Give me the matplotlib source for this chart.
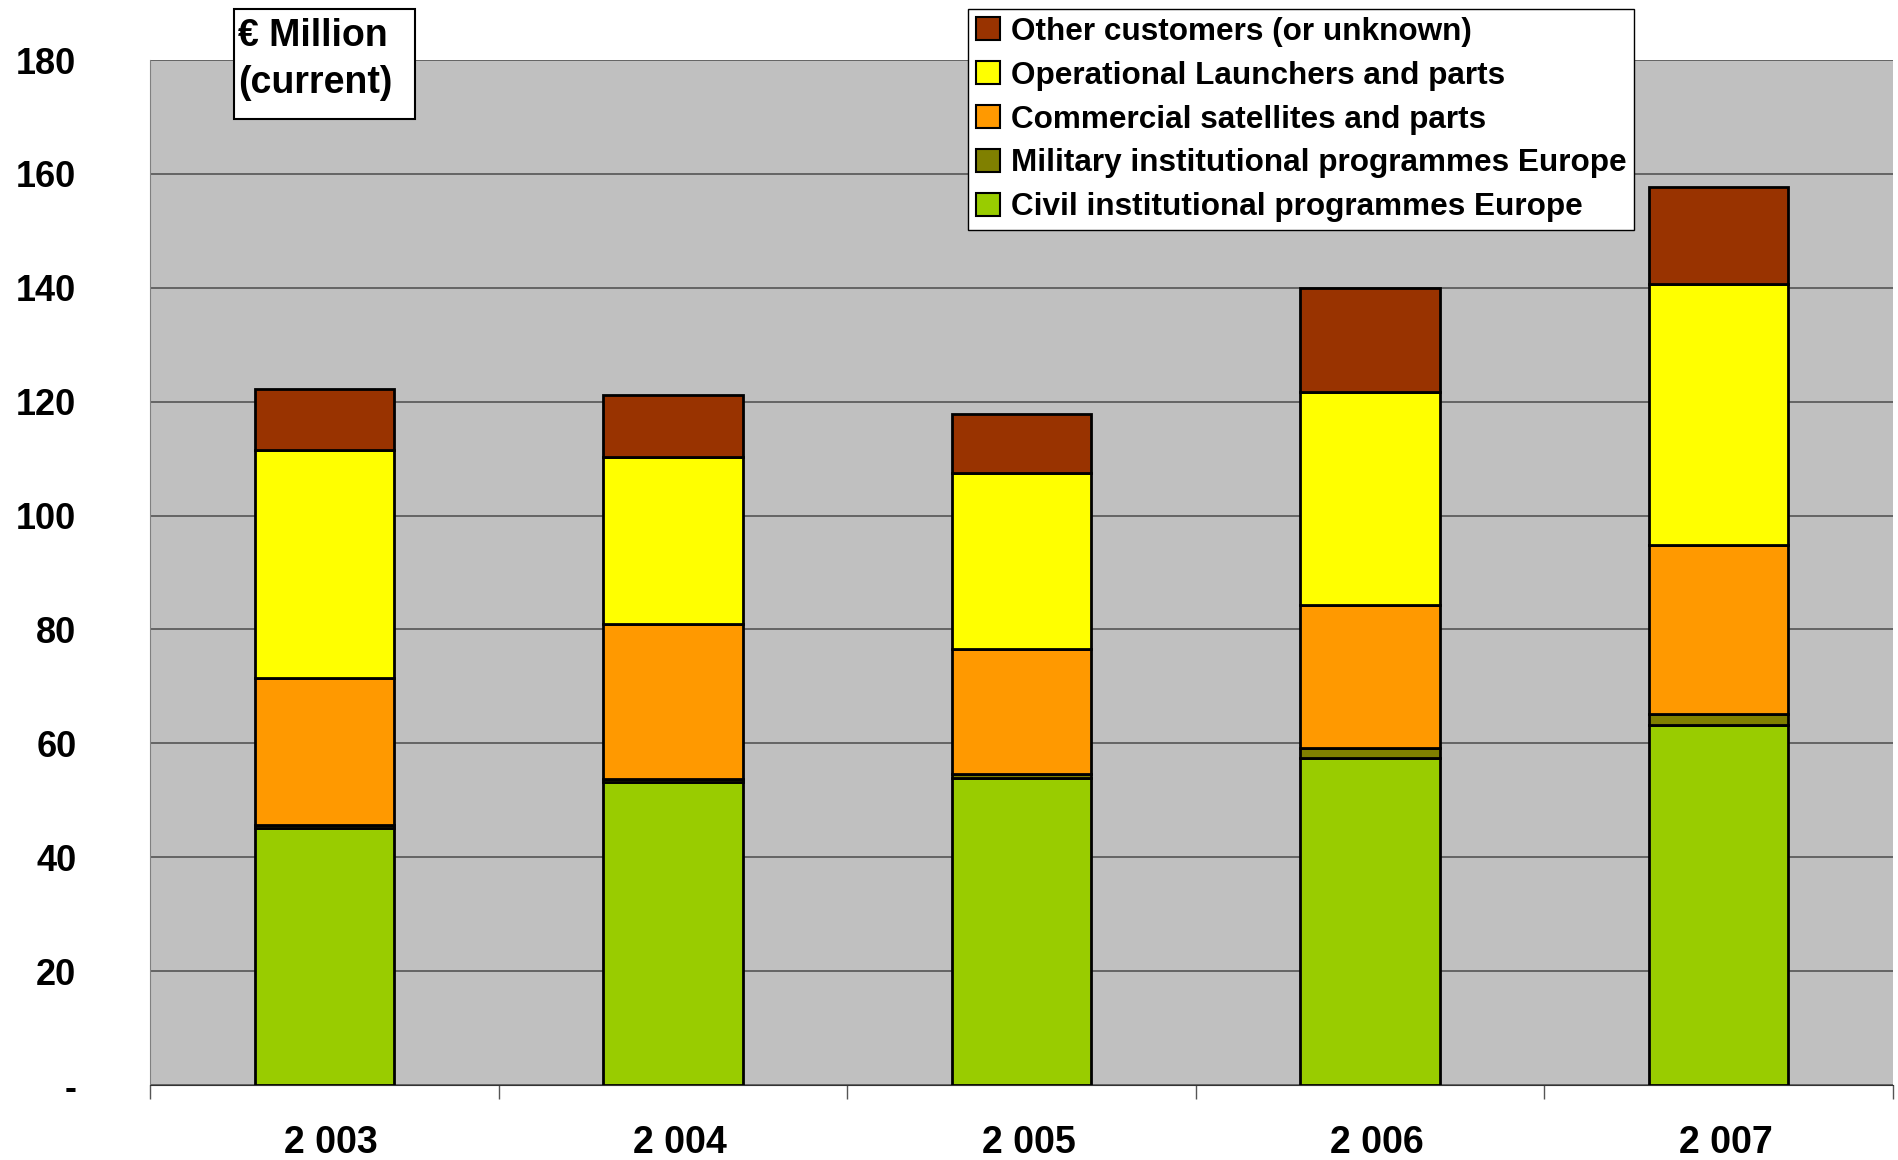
import numpy as np
import matplotlib
matplotlib.use("Agg")
from matplotlib import pyplot as plt
from matplotlib.patches import Patch, Rectangle
from matplotlib.transforms import ScaledTranslation

# ---- data (EUR million, current) ----
years = ["2 003", "2 004", "2 005", "2 006", "2 007"]
civil = [45.1, 53.2, 54.0, 57.4, 63.2]
military = [0.6, 0.6, 0.7, 1.7, 1.9]
commercial = [25.8, 27.1, 21.9, 25.2, 29.8]
launchers = [40.0, 29.3, 30.8, 37.4, 45.7]
other = [10.8, 10.9, 10.5, 18.3, 17.1]

series = [civil, military, commercial, launchers, other]
names = ["Civil institutional programmes Europe",
         "Military institutional programmes Europe",
         "Commercial satellites and parts",
         "Operational Launchers and parts",
         "Other customers (or unknown)"]
colors = ["#99CC00", "#808000", "#FF9900", "#FFFF00", "#993300"]

plt.rcParams['font.family'] = ['Liberation Sans', 'DejaVu Sans']
plt.rcParams['font.weight'] = 'bold'

W, H = 1898, 1160
fig = plt.figure(figsize=(W / 100, H / 100), dpi=100)
ax = fig.add_axes([150 / W, 1 - 1085 / H, 1743 / W, 1025 / H])
ax.set_facecolor("#C0C0C0")

x = np.arange(len(years))
bottom = np.zeros(len(years))
for vals, col in zip(series, colors):
    ax.bar(x, vals, 0.4, bottom=bottom, color=col, edgecolor="black", linewidth=2, zorder=3)
    bottom += np.array(vals)

ax.set_xlim(-0.5, 4.5)
ax.set_ylim(0, 180)
ax.set_yticks(range(0, 181, 20))
ax.set_yticklabels(["-"] + [str(v) for v in range(20, 181, 20)])
ax.yaxis.grid(True, color="#555555", linewidth=1.2, zorder=0)
ax.tick_params(axis="y", length=0, pad=53, labelsize=26)

ax.set_xticks(x)
ax.set_xticklabels(years)
ax.set_xticks(np.arange(-0.5, 4.6, 1), minor=True)
ax.tick_params(axis="x", which="major", length=0, pad=29, labelsize=27)
ax.tick_params(axis="x", which="minor", length=10, width=1, color="#555555")
# labels sit a little right of the bar centre in the original
shift = ScaledTranslation(7 / 100, 0, fig.dpi_scale_trans)
for lab in ax.get_xticklabels():
    lab.set_transform(lab.get_transform() + shift)

for s in ["top", "right"]:
    ax.spines[s].set_visible(False)
ax.spines["left"].set_color("#808080")
ax.spines["bottom"].set_color("#333333")

# legend (reversed order like the original)
handles = [Patch(facecolor=c, edgecolor="black", linewidth=1.5) for c in colors[::-1]]
leg = fig.legend(handles, names[::-1], loc="upper left",
                 bbox_to_anchor=(968 / W, 1 - 9 / H),
                 frameon=True, fancybox=False, framealpha=1, edgecolor="black",
                 fontsize=22.7, handlelength=0.75, handleheight=0.75, handletextpad=0.35,
                 labelspacing=0.44, borderpad=0.25, borderaxespad=0)
leg.get_frame().set_linewidth(1)

# unit box
fig.patches.append(Rectangle((234 / W, 1 - 119 / H), 181 / W, 110 / H, transform=fig.transFigure,
                             facecolor="white", edgecolor="black", linewidth=1.5, zorder=5))
fig.text(238 / W, 1 - 18 / H, "€ Million\n(current)", fontsize=27, fontweight="bold",
         va="top", ha="left", linespacing=1.4, zorder=6)

fig.savefig("out.png", dpi=100)
